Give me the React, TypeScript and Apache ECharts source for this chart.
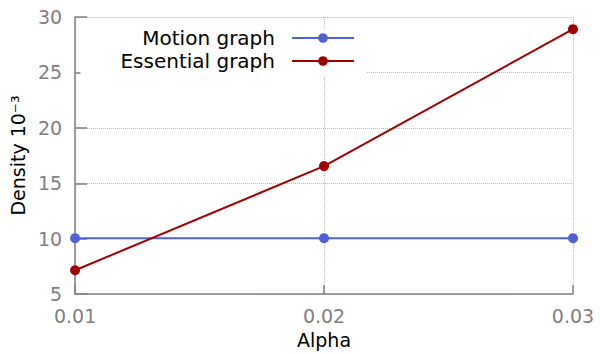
import React, { useEffect, useRef } from "react";
import * as echarts from "echarts";

const alphas = [0.01, 0.02, 0.03];
const motionGraph = [10.05, 10.05, 10.05];
const essentialGraph = [7.15, 16.55, 28.9];
const seriesNames = ["Motion graph", "Essential graph"];

export default function App() {
  const ref = useRef<HTMLDivElement>(null);
  useEffect(() => {
    if (!ref.current) return;
    const chart = echarts.init(ref.current, null, { renderer: "svg" });
    const font = "DejaVu Sans";
    chart.setOption({
      animation: false,
      textStyle: { fontFamily: font },
      grid: { left: 72, right: 27, top: 17, bottom: 59 },
      legend: {
        orient: "vertical",
        align: "right",
        right: 233,
        top: 28,
        padding: [0, 12, 6, 40],
        backgroundColor: "#ffffff",
        itemWidth: 62,
        itemHeight: 12,
        itemGap: 3,
        textStyle: { fontFamily: font, fontSize: 20, lineHeight: 20, color: "#000", padding: [0, 12, 0, 0] },
        data: seriesNames,
      },
      xAxis: {
        type: "value",
        min: 0.01,
        max: 0.03,
        interval: 0.01,
        name: "Alpha",
        nameLocation: "middle",
        nameGap: 35,
        nameTextStyle: { fontFamily: font, fontSize: 19, color: "#000" },
        axisLine: { lineStyle: { color: "#808080", width: 1.5 } },
        axisTick: { inside: true, length: 9, lineStyle: { color: "#808080", width: 1.5 } },
        axisLabel: {
          margin: 12,
          fontSize: 19,
          color: "#808080",
          fontFamily: font,
          formatter: (v: number) => v.toFixed(2),
        },
        splitLine: { show: true, lineStyle: { type: "dotted", color: "#b8b8b8", width: 1 } },
      },
      yAxis: {
        type: "value",
        min: 5,
        max: 30,
        interval: 5,
        name: "Density 10⁻³",
        nameLocation: "middle",
        nameRotate: 90,
        nameGap: 39,
        nameTextStyle: { fontFamily: font, fontSize: 19, color: "#000" },
        axisLine: { show: true, lineStyle: { color: "#808080", width: 1.5 } },
        axisTick: { show: true, inside: true, length: 12, lineStyle: { color: "#808080", width: 1.5 } },
        axisLabel: { margin: 13, fontSize: 19, color: "#808080", fontFamily: font },
        splitLine: { show: true, lineStyle: { type: "dotted", color: "#b8b8b8", width: 1 } },
      },
      series: [
        {
          name: seriesNames[0],
          type: "line",
          data: alphas.map((a, i) => [a, motionGraph[i]]),
          symbol: "circle",
          symbolSize: 10,
          color: "#5060d6",
          lineStyle: { width: 2, color: "#5060d6" },
          itemStyle: { color: "#5060d6" },
        },
        {
          name: seriesNames[1],
          type: "line",
          data: alphas.map((a, i) => [a, essentialGraph[i]]),
          symbol: "circle",
          symbolSize: 10,
          color: "#a00000",
          lineStyle: { width: 2, color: "#a00000" },
          itemStyle: { color: "#a00000" },
        },
      ],
    });
    return () => chart.dispose();
  }, []);
  return <div ref={ref} style={{ width: 600, height: 354, position: "absolute", left: 0, top: 0 }} />;
}
